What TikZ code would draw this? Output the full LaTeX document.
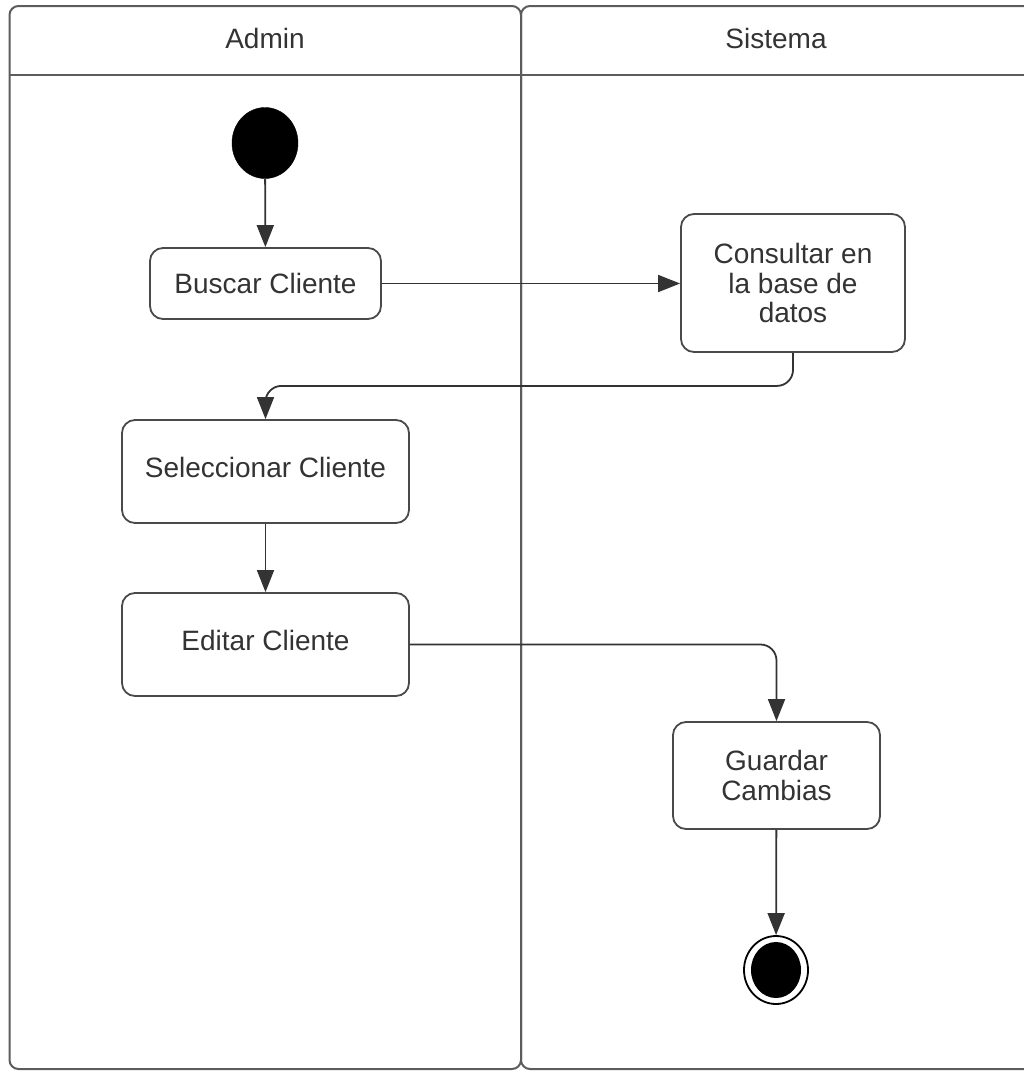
\documentclass[tikz,border=0pt]{standalone}
\usepackage{fontspec}
\setmainfont{Liberation Sans}
\usetikzlibrary{arrows.meta,shapes.geometric}
\definecolor{ink}{HTML}{333333}
\definecolor{laneline}{HTML}{5C5C5C}
\definecolor{boxline}{HTML}{4A4A4A}
\tikzset{
  lane/.style={draw=laneline, line width=2pt, rounded corners=9pt},
  action/.style={draw=boxline, line width=1.8pt, rounded corners=13pt, fill=white,
    text=ink, font=\fontsize{28}{29.5}\selectfont, align=center, inner sep=0pt},
  flow/.style={draw=ink, line width=1.8pt, rounded corners=16pt,
    -{Triangle[length=22pt,width=17pt]}},
  lanetitle/.style={text=ink, font=\fontsize{28}{30}\selectfont},
  startnode/.style={ellipse, fill=black, draw=black, inner sep=0pt,
    minimum width=66pt, minimum height=71pt},
}
\begin{document}
\begin{tikzpicture}[x=1pt,y=-1pt]
\useasboundingbox (0,0) rectangle (1024,1071);
\clip (0,0) rectangle (1024,1071);

% swimlanes
\draw[lane] (9.5,6) rectangle (521,1069);
\draw[lane] (521,6) rectangle (1040,1069);
\draw[draw=laneline, line width=2.6pt] (9.5,75) -- (1024,75);
\draw[draw=laneline, line width=2pt] (521,12) -- (521,1063);
\node[lanetitle] (admin) at (265,38) {Admin};
\node[lanetitle] (sistema) at (776,38) {Sistema};

% activities
\node[startnode] (start) at (265,143) {};
\node[action, minimum width=231pt, minimum height=71pt] (buscar) at (265.5,283.5) {Buscar Cliente};
\node[action, minimum width=224pt, minimum height=138pt] (consultar) at (793,283) {Consultar en\\la base de\\datos};
\node[action, minimum width=287pt, minimum height=103pt] (seleccionar) at (265.5,471.5) {};
\node[text=ink, font=\fontsize{28}{29.5}\selectfont] (seltext) at (265.5,467) {Seleccionar Cliente};
\node[action, minimum width=287pt, minimum height=103pt] (editar) at (265.5,644.5) {};
\node[text=ink, font=\fontsize{28}{29.5}\selectfont] (edittext) at (265.5,640) {Editar Cliente};
\node[action, minimum width=207pt, minimum height=107pt] (guardar) at (776.5,775.5) {Guardar\\Cambias};

% final node
\node[ellipse, draw=black, line width=1.8pt, fill=white, inner sep=0pt,
  minimum width=64pt, minimum height=68pt] (fin) at (776,970) {};
\node[ellipse, fill=black, inner sep=0pt, minimum width=50pt, minimum height=56pt] (findot) at (fin.center) {};

% control flow
\draw[flow] (start) -- (buscar);
\draw[flow] (buscar.east) -- (consultar.west |- buscar.east);
\draw[flow] (consultar.south) -- ++(0,33) -| (seleccionar.north);
\draw[flow] (seleccionar) -- (editar);
\draw[flow] (editar.east) -| (guardar.north);
\draw[flow] (guardar) -- (fin);
\end{tikzpicture}
\end{document}
